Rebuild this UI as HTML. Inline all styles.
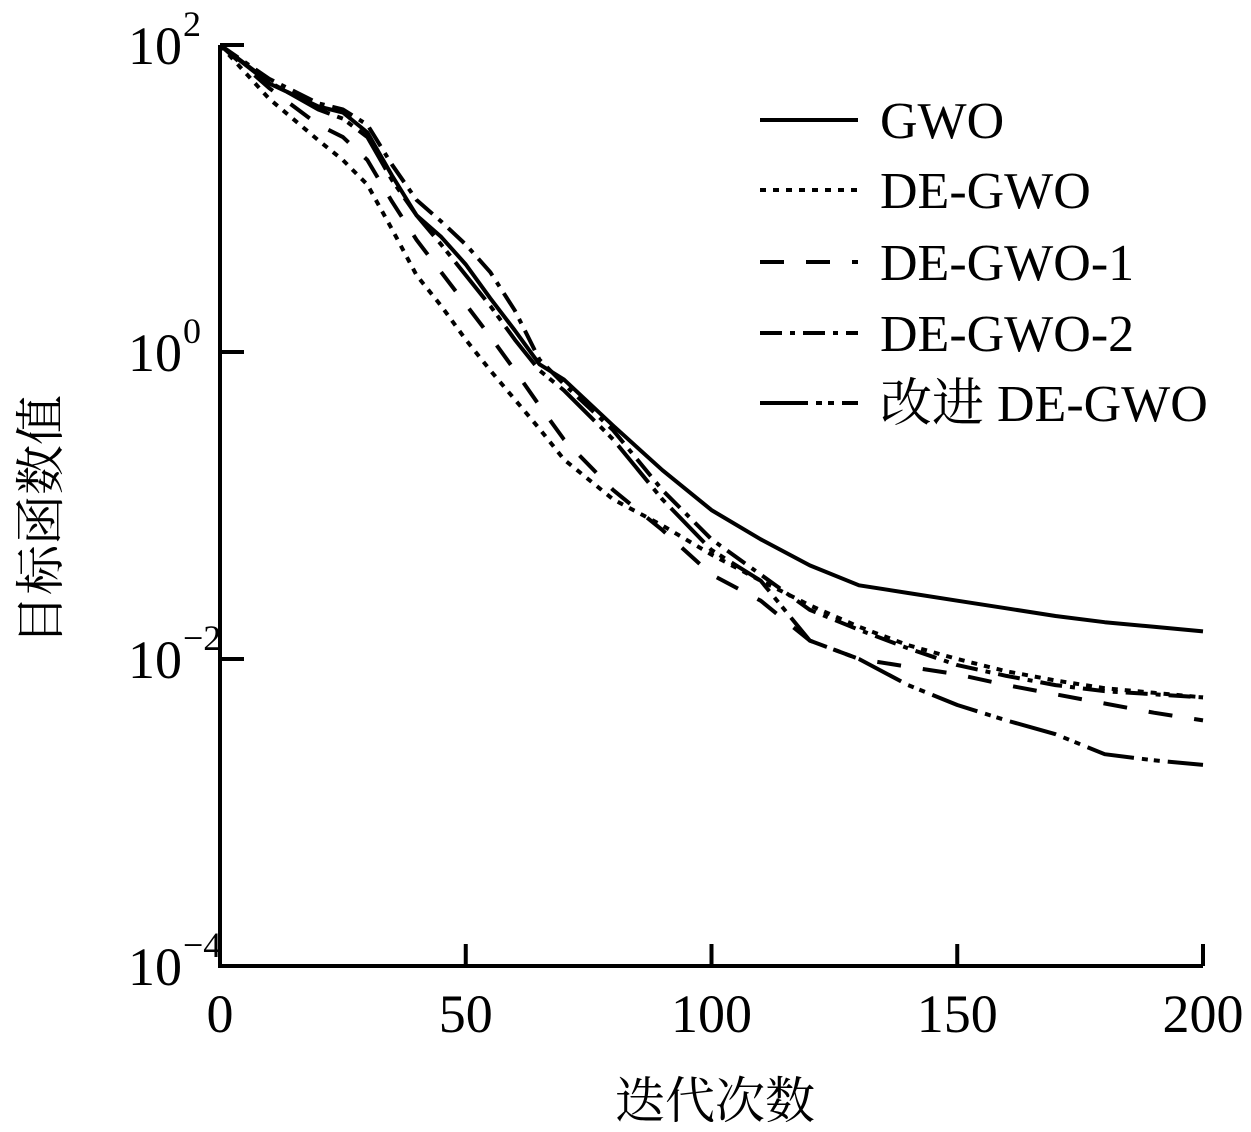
<!DOCTYPE html>
<html><head><meta charset="utf-8"><style>
html,body{margin:0;padding:0;background:#fff;}
svg{display:block;}
text{fill:#000;}
.tk{font-family:"Liberation Serif","Noto Serif CJK SC",serif;font-size:54px;}
.lg{font-family:"Liberation Serif","Noto Serif CJK SC",serif;font-size:52px;}
.ttl{font-family:"Liberation Serif","Noto Serif CJK SC","Noto Sans CJK SC",serif;font-size:50px;}
</style></head><body>
<svg id="chart" width="1251" height="1132" viewBox="0 0 1251 1132" xmlns="http://www.w3.org/2000/svg">
<g id="axes"></g>
<g id="series"></g>
<g id="legend"></g>
<text class="ttl" x="715" y="1118" text-anchor="middle">迭代次数</text>
<text class="ttl" transform="translate(58,520) rotate(-90)" text-anchor="middle">目标函数值</text>
</svg>
<script>
const xTicks = [0, 50, 100, 150, 200];
const yTickExp = [2, 0, -2, -4];
const iters = [0, 10, 20, 25, 30, 35, 40, 45, 50, 55, 60, 65, 70, 80, 90, 100, 110, 120, 130, 140, 150, 160, 170, 180, 190, 200];
const seriesNames = ["GWO", "DE-GWO", "DE-GWO-1", "DE-GWO-2", "改进 DE-GWO"];
// log10 of objective value
const gwo    = [2.0, 1.75, 1.6, 1.56, 1.43, 1.15, 0.89, 0.75, 0.57, 0.35, 0.14, -0.08, -0.18, -0.48, -0.77, -1.03, -1.22, -1.39, -1.52, -1.57, -1.62, -1.67, -1.72, -1.76, -1.79, -1.82];
const deGwo  = [2.0, 1.65, 1.38, 1.25, 1.09, 0.80, 0.50, 0.30, 0.08, -0.12, -0.31, -0.50, -0.70, -0.96, -1.13, -1.32, -1.49, -1.65, -1.79, -1.91, -2.0, -2.08, -2.14, -2.19, -2.22, -2.25];
const deGwo1 = [2.0, 1.72, 1.48, 1.40, 1.25, 0.98, 0.73, 0.52, 0.31, 0.10, -0.12, -0.35, -0.57, -0.90, -1.16, -1.45, -1.62, -1.88, -2.0, -2.05, -2.10, -2.17, -2.23, -2.29, -2.35, -2.40];
const deGwo2 = [2.0, 1.78, 1.62, 1.58, 1.48, 1.22, 0.99, 0.85, 0.70, 0.52, 0.27, -0.05, -0.21, -0.51, -0.90, -1.22, -1.45, -1.68, -1.81, -1.93, -2.04, -2.11, -2.17, -2.21, -2.23, -2.25];
const improved = [2.0, 1.76, 1.58, 1.52, 1.40, 1.12, 0.89, 0.70, 0.50, 0.30, 0.08, -0.12, -0.25, -0.57, -0.96, -1.29, -1.49, -1.88, -2.0, -2.17, -2.30, -2.40, -2.49, -2.62, -2.66, -2.69];

const NS = "http://www.w3.org/2000/svg";
const X0 = 220, X1 = 1203, YTOP = 45, DEC = 153.5;
const xs = v => X0 + (v - 0) / 200 * (X1 - X0);
const ys = lg => YTOP + (2 - lg) * DEC;
const YB = ys(-4);
function mk(tag, attrs, parent){const e=document.createElementNS(NS,tag);for(const k in attrs)e.setAttribute(k,attrs[k]);parent.appendChild(e);return e;}
const axes = document.getElementById('axes');
let e;
e = mk('line',{x1:X0,y1:YTOP,x2:X0,y2:YB+2,stroke:'#000','stroke-width':4},axes);


e = mk('line',{x1:X0-2,y1:YB,x2:X1,y2:YB,stroke:'#000','stroke-width':4},axes);


xTicks.forEach(t=>{
  const tl = mk('line',{x1:xs(t),y1:YB,x2:xs(t),y2:YB-22,stroke:'#000','stroke-width':4},axes);
  
  
  const tx = mk('text',{x:xs(t),y:YB+66,'text-anchor':'middle',class:'tk'},axes);
  
  
  tx.textContent = t;
});
yTickExp.forEach(p=>{
  const y = ys(p);
  const tl = mk('line',{x1:X0,y1:y,x2:X0+24,y2:y,stroke:'#000','stroke-width':4},axes);
  
  
  const tx = mk('text',{x:128,y:y+19,class:'tk'},axes);
  
  
  tx.textContent = '10';
  const sp = mk('tspan',{dx:1,dy:-28,style:'font-size:36px'},tx);
  sp.textContent = p < 0 ? '\u2212' + (-p) : String(p);
});
const dashes = ["", "6 7", "24 22", "22 8 5 8", "48 8 6 6 6 8"];
const data = [gwo, deGwo, deGwo1, deGwo2, improved];
const sg = document.getElementById('series');
data.forEach((arr,i)=>{
  const d = arr.map((v,j)=>(j?'L':'M')+xs(iters[j]).toFixed(1)+','+ys(v).toFixed(1)).join(' ');
  const p = mk('path',{d:d,fill:'none',stroke:'#000','stroke-width':4,'stroke-dasharray':dashes[i],'stroke-linejoin':'round'},sg);
  
  
});
const lg = document.getElementById('legend');
const ly = [120, 190, 262, 333, 403];
seriesNames.forEach((n,i)=>{
  const l = mk('line',{x1:760,y1:ly[i],x2:858,y2:ly[i],stroke:'#000','stroke-width':4,'stroke-dasharray':dashes[i]},lg);
  
  
  const t = mk('text',{x:880,y:ly[i]+18,class:'lg'},lg);
  
  
  t.textContent = n;
});
</script>
</body></html>
